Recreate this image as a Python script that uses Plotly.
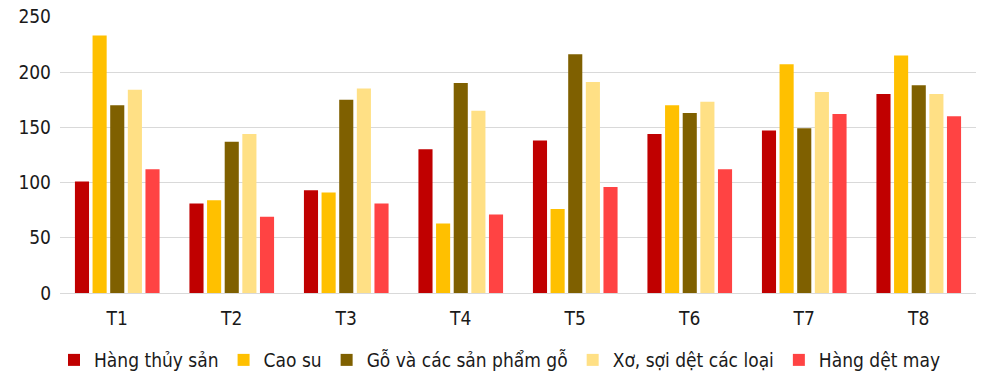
import plotly.graph_objects as go

categories = ["T1", "T2", "T3", "T4", "T5", "T6", "T7", "T8"]
series_names = ["Hàng thủy sản", "Cao su", "Gỗ và các sản phẩm gỗ", "Xơ, sợi dệt các loại", "Hàng dệt may"]
thuy_san = [101, 81, 93, 130, 138, 144, 147, 180]
cao_su = [233, 84, 91, 63, 76, 170, 207, 215]
go_sp = [170, 137, 175, 190, 216, 163, 149, 188]
xo_soi = [184, 144, 185, 165, 191, 173, 182, 180]
det_may = [112, 69, 81, 71, 96, 112, 162, 160]
colors = ["#C00000", "#FFC000", "#7F6000", "#FFE085", "#FF4343"]
y_ticks = [0, 50, 100, 150, 200, 250]

font_family = "DejaVu Sans Condensed, DejaVu Sans, sans-serif"

fig = go.Figure()
for name, vals, col in zip(series_names, [thuy_san, cao_su, go_sp, xo_soi, det_may], colors):
    fig.add_trace(go.Bar(name=name, x=categories, y=vals, marker=dict(color=col, line=dict(width=0))))

fig.update_layout(
    width=1000, height=377,
    barmode="group", bargap=0.23, bargroupgap=0.2,
    plot_bgcolor="white", paper_bgcolor="white",
    margin=dict(l=60, r=24, t=16, b=84, autoexpand=False),
    font=dict(family=font_family, size=19, color="#1a1a1a"),
    showlegend=True,
    legend=dict(orientation="h", x=0.5, xanchor="center", xref="container",
                y=-0.242, yanchor="middle",
                font=dict(size=19), itemwidth=30, tracegroupgap=0,
                traceorder="normal"),
    xaxis=dict(showgrid=False, showline=False, ticks="", tickfont=dict(size=19),
               ticklabelstandoff=12, automargin=False),
    yaxis=dict(range=[0, 250.7], tickvals=y_ticks, showgrid=True, gridcolor="#D9D9D9",
               gridwidth=1, zeroline=True, zerolinecolor="#D9D9D9", zerolinewidth=1,
               ticks="", tickfont=dict(size=19), ticklabelstandoff=8, automargin=False),
)

fig.write_html("out.html",
               config={"displayModeBar": False},
               post_script="document.body.style.margin='0';document.body.style.overflow='hidden';")
